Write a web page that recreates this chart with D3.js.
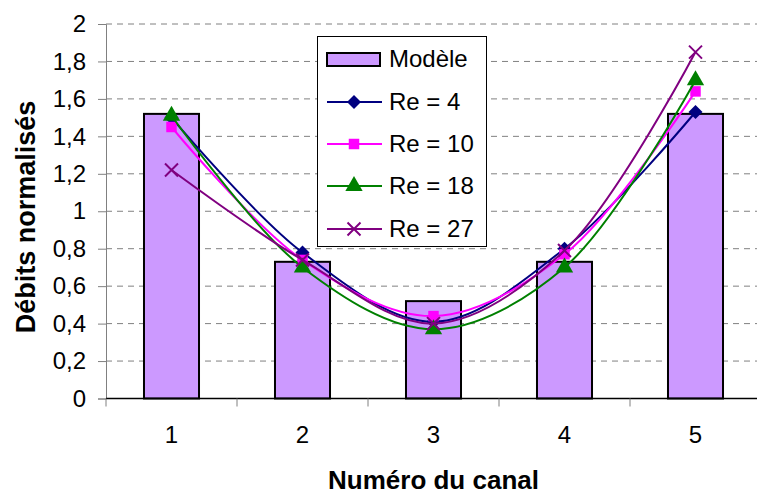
<!DOCTYPE html>
<html>
<head>
<meta charset="utf-8">
<script src="https://cdn.jsdelivr.net/npm/d3@7"></script>
<style>
  body { margin: 0; background: #fff; }
  text { font-family: "Liberation Sans", Arial, sans-serif; fill: #000; }
</style>
</head>
<body>
<div id="chart"></div>
<script>
// canal numbers and model values
var canaux = ["1", "2", "3", "4", "5"];
var modele = [1.52, 0.73, 0.52, 0.73, 1.52];

// measured flows for each Reynolds number
var re4  = [1.50, 0.78, 0.41, 0.80, 1.53];
var re10 = [1.45, 0.74, 0.44, 0.77, 1.64];
var re18 = [1.51, 0.70, 0.37, 0.70, 1.70];
var re27 = [1.22, 0.74, 0.40, 0.79, 1.85];

var yTicks = [0, 0.2, 0.4, 0.6, 0.8, 1, 1.2, 1.4, 1.6, 1.8, 2];

var series = [
    {name: "Re = 4",  values: re4,  color: "#000080", marker: "diamond"},
    {name: "Re = 10", values: re10, color: "#FF00FF", marker: "square"},
    {name: "Re = 18", values: re18, color: "#008000", marker: "triangle"},
    {name: "Re = 27", values: re27, color: "#800080", marker: "cross"}
];

var width = 757, height = 494;
var plot = {left: 106, right: 761, top: 24, bottom: 398.5};

var svg = d3.select("#chart")
    .append("svg")
    .attr("width", width)
    .attr("height", height);

var x = d3.scaleBand()
    .domain(canaux)
    .range([plot.left, plot.right])
    .paddingInner(0.58)
    .paddingOuter(0.29);

var y = d3.scaleLinear()
    .domain([0, 2])
    .range([plot.bottom, plot.top]);

var fmt = function(d) { return String(d).replace(".", ","); };

// dashed grid
svg.append("g")
    .selectAll("line")
    .data(yTicks.filter(function(d) { return d > 0; }))
    .enter()
    .append("line")
    .attr("x1", plot.left)
    .attr("x2", width)
    .attr("y1", function(d) { return y(d); })
    .attr("y2", function(d) { return y(d); })
    .attr("stroke", "#808080")
    .attr("stroke-width", 1)
    .attr("stroke-dasharray", "6,5");

// bars for the model
svg.append("g")
    .selectAll("rect")
    .data(modele)
    .enter()
    .append("rect")
    .attr("x", function(d, i) { return x(canaux[i]); })
    .attr("y", function(d) { return y(d); })
    .attr("width", x.bandwidth())
    .attr("height", function(d) { return y(0) - y(d); })
    .attr("fill", "#CC99FF")
    .attr("stroke", "#000")
    .attr("stroke-width", 2);

// y axis
var yAxis = svg.append("g")
    .attr("transform", "translate(" + plot.left + ",0)")
    .call(d3.axisLeft(y).tickValues(yTicks).tickFormat(fmt).tickSize(8).tickPadding(12));
yAxis.select(".domain").attr("stroke", "#808080");
yAxis.selectAll(".tick line").attr("stroke", "#808080");
yAxis.selectAll("text").style("font-size", "24px");

// x axis
var xAxis = svg.append("g")
    .attr("transform", "translate(0," + plot.bottom + ")")
    .call(d3.axisBottom(x).tickSize(0).tickPadding(27));
xAxis.select(".domain").attr("d", "M" + plot.left + ",0H" + width).attr("stroke", "#000").attr("stroke-width", 1.5);
xAxis.selectAll("text").style("font-size", "24px");

// small ticks between categories
svg.append("g")
    .selectAll("line")
    .data(canaux)
    .enter()
    .append("line")
    .attr("x1", function(d) { return x(d) - x.step() * x.paddingInner() / 2; })
    .attr("x2", function(d) { return x(d) - x.step() * x.paddingInner() / 2; })
    .attr("y1", plot.bottom)
    .attr("y2", plot.bottom + 8)
    .attr("stroke", "#808080");

// axis titles
svg.append("text")
    .attr("transform", "translate(35,217) rotate(-90)")
    .attr("text-anchor", "middle")
    .style("font-size", "27px")
    .style("font-weight", "bold")
    .text("Débits normalisés");

svg.append("text")
    .attr("x", (plot.left + plot.right) / 2)
    .attr("y", 489)
    .attr("text-anchor", "middle")
    .style("font-size", "26px")
    .style("font-weight", "bold")
    .text("Numéro du canal");

function drawMarker(g, type, color) {
    if (type === "cross") {
        g.append("path")
            .attr("d", "M-6.5,-6.5L6.5,6.5M-6.5,6.5L6.5,-6.5")
            .attr("stroke", color)
            .attr("stroke-width", 2)
            .attr("fill", "none");
        return;
    }
    if (type === "diamond") {
        g.append("path")
            .attr("d", "M0,-7L7,0L0,7L-7,0Z")
            .attr("fill", color);
        return;
    }
    var sym = {square: d3.symbolSquare, triangle: d3.symbolTriangle}[type];
    var size = {square: 110, triangle: 130}[type];
    g.append("path")
        .attr("d", d3.symbol().type(sym).size(size)())
        .attr("fill", color);
}

var line = d3.line()
    .x(function(d, i) { return x(canaux[i]) + x.bandwidth() / 2; })
    .y(function(d) { return y(d); })
    .curve(d3.curveCatmullRom.alpha(0.5));

series.forEach(function(s) {
    var g = svg.append("g");
    g.append("path")
        .attr("d", line(s.values))
        .attr("fill", "none")
        .attr("stroke", s.color)
        .attr("stroke-width", 2);
    s.values.forEach(function(v, i) {
        var m = g.append("g")
            .attr("transform", "translate(" + (x(canaux[i]) + x.bandwidth() / 2) + "," + y(v) + ")");
        drawMarker(m, s.marker, s.color);
    });
});

// legend
var legend = svg.append("g");
legend.append("rect")
    .attr("x", 317.5)
    .attr("y", 36.5)
    .attr("width", 169)
    .attr("height", 210)
    .attr("fill", "#fff")
    .attr("stroke", "#000")
    .attr("stroke-width", 1);

var rowY = [59, 102, 144, 186, 229];

legend.append("rect")
    .attr("x", 327)
    .attr("y", rowY[0] - 6)
    .attr("width", 53)
    .attr("height", 13)
    .attr("fill", "#CC99FF")
    .attr("stroke", "#000")
    .attr("stroke-width", 2);
legend.append("text")
    .attr("x", 389)
    .attr("y", rowY[0])
    .attr("dy", "0.35em")
    .style("font-size", "24px")
    .text("Modèle");

series.forEach(function(s, i) {
    var yy = rowY[i + 1];
    legend.append("line")
        .attr("x1", 327)
        .attr("x2", 382)
        .attr("y1", yy)
        .attr("y2", yy)
        .attr("stroke", s.color)
        .attr("stroke-width", 2);
    var m = legend.append("g").attr("transform", "translate(354," + yy + ")");
    drawMarker(m, s.marker, s.color);
    legend.append("text")
        .attr("x", 389)
        .attr("y", yy)
        .attr("dy", "0.35em")
        .style("font-size", "24px")
        .text(s.name);
});
</script>
</body>
</html>
